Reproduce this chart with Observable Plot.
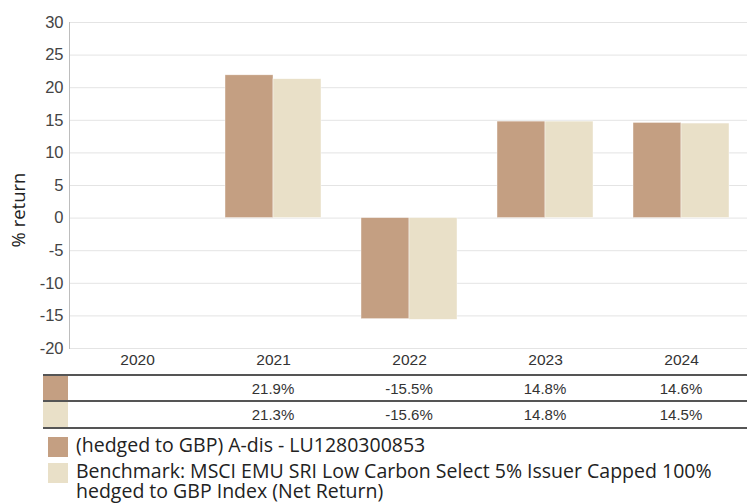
<!DOCTYPE html>
<html>
<head>
<meta charset="utf-8">
<script src="https://cdn.jsdelivr.net/npm/d3@7"></script>
<script src="https://cdn.jsdelivr.net/npm/@observablehq/plot@0.6"></script>
<style>
  html, body { margin: 0; padding: 0; background: #fff; overflow: hidden; }
  #wrap { position: relative; width: 747px; height: 504px; font-family: "Liberation Sans", Arial, sans-serif; }
  #chart svg { display: block; overflow: visible; }
  .ylab { position: absolute; left: 17px; top: 210px; transform: translate(-50%, -50%) rotate(-90deg); font-family: "Open Sans", sans-serif; font-size: 18.5px; color: #222; white-space: nowrap; }
  .tline { position: absolute; left: 43px; width: 704px; height: 0; border-top: 2px solid #555; }
  .sw { position: absolute; left: 43px; width: 25px; }
  .cell { position: absolute; transform: translateX(-50%); font-size: 15px; color: #333; line-height: 25px; white-space: nowrap; }
  .leg { position: absolute; left: 48px; font-family: "Open Sans", sans-serif; font-size: 19.5px; color: #222; line-height: 20px; }
  .leg .box { position: absolute; left: 0; top: 0; width: 20px; height: 20px; }
  .leg .txt { position: absolute; left: 28px; top: -2px; width: 680px; }
</style>
</head>
<body>
<div id="wrap">
  <div id="chart"></div>
</div>
<script>
const years = ["2020", "2021", "2022", "2023", "2024"];
const seriesNames = [
  "(hedged to GBP) A-dis - LU1280300853",
  "Benchmark: MSCI EMU SRI Low Carbon Select 5% Issuer Capped 100% hedged to GBP Index (Net Return)"
];
const colors = ["#C49F82", "#E9E0C8"];
const fundValues = [null, 21.9, -15.5, 14.8, 14.6];
const benchValues = [null, 21.3, -15.6, 14.8, 14.5];
const yTicks = [-20, -15, -10, -5, 0, 5, 10, 15, 20, 25, 30];

const rows = [];
years.forEach((yr, i) => {
  rows.push({year: yr, series: seriesNames[0], value: fundValues[i]});
  rows.push({year: yr, series: seriesNames[1], value: benchValues[i]});
});

const plot = Plot.plot({
  width: 747,
  height: 372,
  marginLeft: 69,
  marginRight: -2,
  marginTop: 22,
  marginBottom: 24,
  style: {fontFamily: "'Liberation Sans', Arial, sans-serif", fontSize: "15px", color: "#333", background: "white"},
  fx: {domain: years, padding: 0, label: null},
  x: {domain: seriesNames, paddingInner: 0.01, paddingOuter: 0.42, axis: null},
  y: {domain: [-20, 30], ticks: yTicks, label: null},
  color: {domain: seriesNames, range: colors},
  marks: [
    Plot.gridY(yTicks, {stroke: "#e4e4e4", strokeOpacity: 1}),
    Plot.axisY(yTicks, {tickSize: 0, tickPadding: 6, fontSize: 16.5, fill: "#444", label: null, facetAnchor: "left", tickFormat: d => String(d)}),
    Plot.axisFx({anchor: "bottom", tickSize: 0, tickPadding: 5, fontSize: 15.5, fill: "#333", label: null}),
    Plot.frame({anchor: "left", facetAnchor: "left", stroke: "#bdbdbd"}),
    Plot.barY(rows, {fx: "year", x: "series", y: "value", fill: "series", inset: 0, stroke: "#fff", strokeWidth: 0.6, strokeOpacity: 0.7})
  ]
});
document.getElementById("chart").appendChild(plot);

const wrap = document.getElementById("wrap");
const yl = document.createElement("div");
yl.className = "ylab"; yl.textContent = "% return";
wrap.appendChild(yl);

const fx = plot.scale("fx");
const centerOf = yr => fx.apply(yr) + fx.bandwidth / 2;
const lineYs = [374, 400, 426.5];
lineYs.forEach(y => {
  const l = document.createElement("div");
  l.className = "tline"; l.style.top = y + "px";
  wrap.appendChild(l);
});
[fundValues, benchValues].forEach((vals, r) => {
  const top = lineYs[r] + 2;
  const sw = document.createElement("div");
  sw.className = "sw"; sw.style.top = top + "px"; sw.style.height = (lineYs[r + 1] - top) + "px";
  sw.style.background = colors[r];
  wrap.appendChild(sw);
  vals.forEach((v, i) => {
    if (v == null) return;
    const c = document.createElement("div");
    c.className = "cell";
    c.style.left = centerOf(years[i]) + "px";
    c.style.top = top + "px";
    c.textContent = v.toFixed(1) + "%";
    wrap.appendChild(c);
  });
});

const legTops = [437, 463];
seriesNames.forEach((name, i) => {
  const d = document.createElement("div");
  d.className = "leg"; d.style.top = legTops[i] + "px";
  const b = document.createElement("div");
  b.className = "box"; b.style.background = colors[i];
  const t = document.createElement("div");
  t.className = "txt"; t.textContent = name;
  d.appendChild(b); d.appendChild(t);
  wrap.appendChild(d);
});
</script>
</body>
</html>
